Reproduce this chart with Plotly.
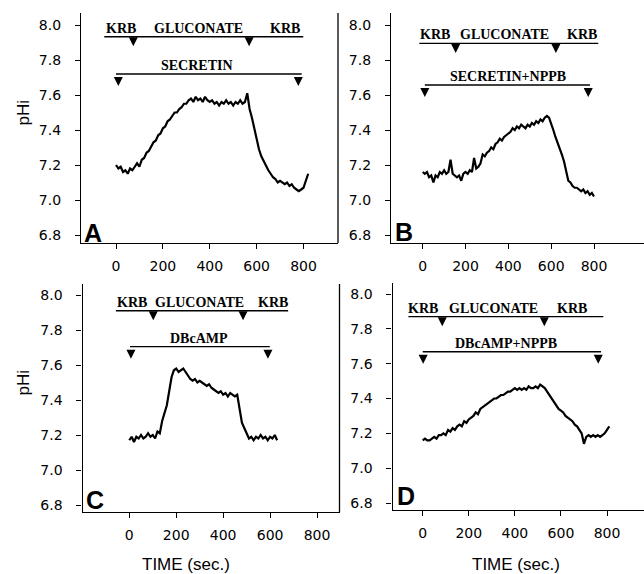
import plotly.graph_objects as go

W, H = 644, 574

# ---------------- data ----------------
# Panel A: SECRETIN
tA = list(range(0, 830, 10))
phA = [7.20, 7.18, 7.19, 7.16, 7.17, 7.15, 7.18, 7.17, 7.19, 7.21,
       7.19, 7.23, 7.24, 7.27, 7.28, 7.31, 7.33, 7.34, 7.37, 7.38,
       7.41, 7.42, 7.45, 7.46, 7.48, 7.50, 7.50, 7.52, 7.53, 7.55,
       7.55, 7.57, 7.58, 7.56, 7.59, 7.57, 7.58, 7.56, 7.59, 7.57,
       7.56, 7.57, 7.55, 7.56, 7.54, 7.56, 7.55, 7.57, 7.55, 7.56,
       7.54, 7.56, 7.55, 7.57, 7.55, 7.56, 7.61, 7.52, 7.47, 7.41,
       7.34, 7.29, 7.25, 7.22, 7.19, 7.17, 7.15, 7.13, 7.12, 7.10,
       7.11, 7.10, 7.09, 7.10, 7.08, 7.09, 7.07, 7.06, 7.05, 7.06,
       7.07, 7.11, 7.15]

# Panel B: SECRETIN+NPPB
tB = list(range(0, 810, 10))
phB = [7.16, 7.15, 7.16, 7.13, 7.14, 7.10, 7.14, 7.13, 7.16, 7.15,
       7.17, 7.15, 7.16, 7.23, 7.15, 7.14, 7.13, 7.14, 7.11, 7.15,
       7.16, 7.15, 7.17, 7.16, 7.24, 7.18, 7.19, 7.21, 7.26, 7.25,
       7.27, 7.28, 7.30, 7.29, 7.32, 7.33, 7.35, 7.34, 7.36, 7.37,
       7.38, 7.39, 7.41, 7.40, 7.42, 7.41, 7.43, 7.42, 7.41, 7.43,
       7.42, 7.44, 7.43, 7.45, 7.44, 7.46, 7.45, 7.47, 7.48, 7.47,
       7.44, 7.40, 7.36, 7.33, 7.29, 7.26, 7.22, 7.17, 7.11, 7.10,
       7.08, 7.07, 7.07, 7.06, 7.05, 7.06, 7.04, 7.05, 7.03, 7.04,
       7.02]

# Panel C: DBcAMP
tC = list(range(0, 640, 10))
phC = [7.17, 7.19, 7.16, 7.19, 7.18, 7.20, 7.18, 7.19, 7.21, 7.19,
       7.20, 7.18, 7.22, 7.21, 7.28, 7.32, 7.37, 7.45, 7.53, 7.57,
       7.58, 7.56, 7.57, 7.58, 7.56, 7.54, 7.52, 7.51, 7.52, 7.50,
       7.51, 7.50, 7.49, 7.48, 7.49, 7.47, 7.46, 7.45, 7.44, 7.45,
       7.43, 7.44, 7.42, 7.44, 7.43, 7.42, 7.43, 7.36, 7.27, 7.24,
       7.21, 7.18, 7.19, 7.17, 7.19, 7.18, 7.20, 7.18, 7.19, 7.17,
       7.19, 7.18, 7.20, 7.17]

# Panel D: DBcAMP+NPPB
tD = list(range(0, 820, 10))
phD = [7.16, 7.17, 7.16, 7.16, 7.17, 7.18, 7.17, 7.19, 7.19, 7.20,
       7.19, 7.22, 7.21, 7.23, 7.22, 7.24, 7.25, 7.24, 7.27, 7.26,
       7.28, 7.29, 7.30, 7.32, 7.31, 7.34, 7.35, 7.36, 7.37, 7.38,
       7.39, 7.40, 7.40, 7.41, 7.42, 7.42, 7.43, 7.44, 7.44, 7.45,
       7.46, 7.45, 7.46, 7.45, 7.46, 7.45, 7.47, 7.46, 7.46, 7.47,
       7.46, 7.48, 7.47, 7.46, 7.44, 7.42, 7.40, 7.38, 7.36, 7.34,
       7.33, 7.32, 7.30, 7.29, 7.28, 7.27, 7.25, 7.24, 7.22, 7.20,
       7.14, 7.18, 7.19, 7.18, 7.19, 7.18, 7.19, 7.18, 7.19, 7.20,
       7.22, 7.24]

# Solution bars (KRB / GLUCONATE / KRB)
sol_labels = ["KRB", "GLUCONATE", "KRB"]
sol_level = {"A": 7.933, "B": 7.895, "C": 7.91, "D": 7.87}
sol_span = {"A": [-50, 799], "B": [-16, 820], "C": [-57, 677], "D": [-62, 784]}
sol_label_t = {"A": [20, 350, 720], "B": [57, 384, 742], "C": [10, 301, 613], "D": [3, 309, 647]}
sol_switch_t = {"A": [74, 568], "B": [154, 622], "C": [102, 485], "D": [85, 528]}

# Agonist bars
drug_label = {"A": "SECRETIN", "B": "SECRETIN+NPPB", "C": "DBcAMP", "D": "DBcAMP+NPPB"}
drug_level = {"A": 7.72, "B": 7.657, "C": 7.705, "D": 7.668}
drug_span = {"A": [0, 792], "B": [10, 781], "C": [3, 599], "D": [0, 774]}
drug_label_t = {"A": 344, "B": 400, "C": 298, "D": 362}
drug_switch_t = {"A": [10, 778], "B": [10, 773], "C": [7, 591], "D": [2, 762]}

x_ticks = [0, 200, 400, 600, 800]
y_ticks = [6.8, 7.0, 7.2, 7.4, 7.6, 7.8, 8.0]

traces = {"A": (tA, phA), "B": (tB, phB), "C": (tC, phC), "D": (tD, phD)}

# ---------------- layout geometry (pixels) ----------------
# left, right, top, bottom, px of t=0, px of t=800, py of 8.0, py of 6.8
geom = {
    "A": (81, 338, 13, 243, 116.0, 303.5, 25, 235),
    "B": (391, 644, 13, 243, 422.7, 594.0, 25, 235),
    "C": (82.5, 339.5, 284, 512, 129.3, 317.0, 295, 505),
    "D": (392.5, 644, 283, 510, 422.7, 607.0, 294, 503),
}
axis_ids = {"A": "", "B": "2", "C": "3", "D": "4"}

fig = go.Figure()
serif = "Liberation Serif"
sans = "Liberation Sans"

layout = dict(
    width=W, height=H, margin=dict(l=0, r=0, t=0, b=0),
    paper_bgcolor="white", plot_bgcolor="white", showlegend=False,
)
annotations = []
shapes = []

for p in ["A", "B", "C", "D"]:
    L, R, T, B, px0, px800, py8, py68 = geom[p]
    sx = (px800 - px0) / 800.0
    sy = (py68 - py8) / 1.2
    xr = [(L - px0) / sx, (R - px0) / sx]
    yr = [6.8 - (B - py68) / sy, 8.0 + (py8 - T) / sy]
    aid = axis_ids[p]
    xa, ya = "x" + aid, "y" + aid
    common = dict(showgrid=False, zeroline=False, showline=True, linecolor="black",
                  linewidth=1.3, ticks="outside", ticklen=5, tickwidth=1.2,
                  tickcolor="black", tickfont=dict(family="DejaVu Sans", size=14, color="black"))
    layout["xaxis" + aid] = dict(domain=[L / W, R / W], range=xr, anchor=ya,
                                 tickvals=x_ticks, ticklabelstandoff=5, **common)
    layout["yaxis" + aid] = dict(domain=[1 - B / H, 1 - T / H], range=yr, anchor=xa,
                                 tickvals=y_ticks, tickformat=".1f", ticklabelstandoff=11, **common)

    t, ph = traces[p]
    fig.add_trace(go.Scatter(x=t, y=ph, mode="lines", xaxis=xa, yaxis=ya,
                             line=dict(color="black", width=2.2)))

    # solution bar
    lv = sol_level[p]
    fig.add_trace(go.Scatter(x=sol_span[p], y=[lv, lv], mode="lines", xaxis=xa, yaxis=ya,
                             line=dict(color="black", width=1.4)))
    tip = lv - 9.5 / sy
    fig.add_trace(go.Scatter(x=sol_switch_t[p], y=[tip] * len(sol_switch_t[p]), mode="markers",
                             xaxis=xa, yaxis=ya,
                             marker=dict(symbol="arrow-down", size=9, color="black")))
    for lab, tt in zip(sol_labels, sol_label_t[p]):
        annotations.append(dict(x=tt, y=lv, xref=xa, yref=ya, text=lab, showarrow=False,
                                xanchor="center", yanchor="bottom", yshift=-1,
                                font=dict(family=serif, size=14, color="black", weight="bold")))
    # drug bar
    dv = drug_level[p]
    fig.add_trace(go.Scatter(x=drug_span[p], y=[dv, dv], mode="lines", xaxis=xa, yaxis=ya,
                             line=dict(color="black", width=1.4)))
    tip2 = dv - 12 / sy
    fig.add_trace(go.Scatter(x=drug_switch_t[p], y=[tip2] * len(drug_switch_t[p]), mode="markers",
                             xaxis=xa, yaxis=ya,
                             marker=dict(symbol="arrow-down", size=9, color="black")))
    annotations.append(dict(x=drug_label_t[p], y=dv, xref=xa, yref=ya, text=drug_label[p],
                            showarrow=False, xanchor="center", yanchor="bottom", yshift=-1,
                            font=dict(family=serif, size=14, color="black", weight="bold")))

# right frame lines on A and C
for aid in ["", "3"]:
    shapes.append(dict(type="line", xref="x" + aid + " domain", yref="y" + aid + " domain",
                       x0=1, x1=1, y0=0, y1=1, line=dict(color="black", width=1.3)))

# panel letters
letter_pos = {"A": (93, 233), "B": (404.5, 232.5), "C": (95.5, 499.5), "D": (406, 495.5)}
for p, (lx, ly) in letter_pos.items():
    annotations.append(dict(x=lx / W, y=1 - ly / H, xref="paper", yref="paper", text=p,
                            showarrow=False, xanchor="center", yanchor="middle",
                            font=dict(family=sans, size=25, color="black", weight="bold")))

# y titles
for yy in [112.5, 382.5]:
    annotations.append(dict(x=23 / W, y=1 - yy / H, xref="paper", yref="paper", text="pHi",
                            textangle=-90, showarrow=False, xanchor="center", yanchor="middle",
                            font=dict(family=sans, size=17, color="black")))
# x titles
for xx in [186, 516]:
    annotations.append(dict(x=xx / W, y=1 - 564 / H, xref="paper", yref="paper",
                            text="TIME (sec.)", showarrow=False, xanchor="center",
                            yanchor="middle", font=dict(family=sans, size=17, color="black")))

layout["annotations"] = annotations
layout["shapes"] = shapes
fig.update_layout(**layout)
fig.write_html("out.html", config={"displayModeBar": False},
               post_script="document.body.style.margin='0';document.body.style.overflow='hidden';")
